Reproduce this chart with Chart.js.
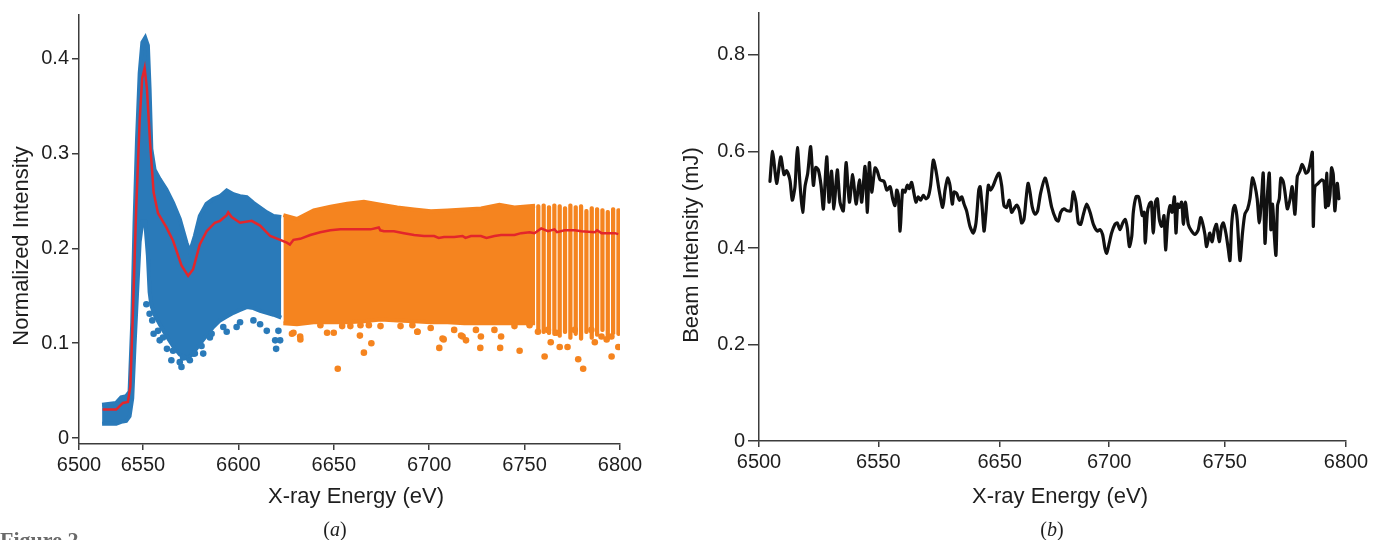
<!DOCTYPE html>
<html>
<head>
<meta charset="utf-8">
<script src="https://cdn.jsdelivr.net/npm/chart.js@4.4.1/dist/chart.umd.min.js"></script>
<style>
  html, body { margin: 0; padding: 0; background: #fff; }
  body { position: relative; width: 1373px; height: 540px; overflow: hidden; }
  canvas { position: absolute; top: 0; }
  #chartA { left: 0; }
  #chartB { left: 660px; }
  .panel { position: absolute; transform: translate(-50%, -50%); font-family: "Liberation Serif", "DejaVu Serif", serif; font-size: 20px; color: #1e1e1e; white-space: nowrap; }
  #figLabel { position: absolute; left: 0; top: 527px; font-family: "Liberation Serif", serif; font-weight: bold; font-size: 22px; color: #6a6a6a; }
</style>
</head>
<body>
<canvas id="chartA" width="680" height="540"></canvas>
<canvas id="chartB" width="713" height="540"></canvas>
<div class="panel" style="left:335px; top:529px;">(<i>a</i>)</div>
<div class="panel" style="left:1052px; top:529px;">(<i>b</i>)</div>
<div id="figLabel">Figure 2</div>
<script>
// ---- panel (a): XANES, single shots (cloud) and average (red) ----
var blueEnergy = [6528.6, 6536.0, 6538.6, 6541.2, 6543.0, 6544.4, 6545.6, 6546.9, 6548.3, 6549.7, 6551.2, 6552.6, 6553.5, 6554.4, 6556.1, 6558.8, 6562.3, 6565.8, 6569.3, 6572.8, 6574.6, 6577.2, 6579.8, 6583.3, 6586.8, 6590.4, 6593.9, 6597.4, 6600.9, 6604.4, 6607.9, 6611.4, 6614.9, 6618.4, 6622.5];
var blueUpper = [0.035, 0.037, 0.043, 0.044, 0.049, 0.122, 0.227, 0.315, 0.385, 0.417, 0.422, 0.414, 0.368, 0.305, 0.283, 0.273, 0.262, 0.248, 0.231, 0.206, 0.196, 0.213, 0.234, 0.247, 0.252, 0.255, 0.261, 0.257, 0.255, 0.254, 0.248, 0.243, 0.238, 0.234, 0.233];
var blueLower = [0.015, 0.015, 0.017, 0.018, 0.023, 0.042, 0.097, 0.152, 0.207, 0.228, 0.228, 0.192, 0.154, 0.140, 0.130, 0.120, 0.108, 0.097, 0.088, 0.084, 0.086, 0.092, 0.099, 0.108, 0.117, 0.124, 0.128, 0.132, 0.135, 0.138, 0.137, 0.134, 0.132, 0.130, 0.127];
var blueOutEnergy = [6551.8, 6553.5, 6554.9, 6555.6, 6557.9, 6558.8, 6560.5, 6562.6, 6564.9, 6565.8, 6569.3, 6570.2, 6571.1, 6574.6, 6576.3, 6577.2, 6580.7, 6581.6, 6585.1, 6586.0, 6592.1, 6593.9, 6599.1, 6600.9, 6607.9, 6611.4, 6614.9, 6619.3, 6619.8, 6621.0, 6621.9];
var blueOutValue = [0.141, 0.131, 0.124, 0.110, 0.113, 0.103, 0.106, 0.094, 0.082, 0.092, 0.080, 0.075, 0.085, 0.082, 0.089, 0.089, 0.097, 0.089, 0.106, 0.110, 0.117, 0.112, 0.117, 0.122, 0.124, 0.120, 0.113, 0.103, 0.094, 0.113, 0.103];

var orangeEnergy = [6623.6, 6630.7, 6639.5, 6648.3, 6657.0, 6665.8, 6674.6, 6683.3, 6692.1, 6700.9, 6709.6, 6718.4, 6727.2, 6736.8, 6744.7, 6755.5];
var orangeUpper = [0.235, 0.231, 0.240, 0.244, 0.247, 0.249, 0.246, 0.243, 0.241, 0.239, 0.240, 0.241, 0.242, 0.246, 0.243, 0.245];
var orangeLower = [0.121, 0.120, 0.122, 0.122, 0.122, 0.123, 0.125, 0.124, 0.123, 0.122, 0.122, 0.121, 0.121, 0.121, 0.121, 0.121];
var stripeEnergy = [6757.2, 6760.0, 6762.8, 6765.6, 6768.4, 6771.2, 6774.0, 6776.8, 6779.6, 6782.4, 6785.2, 6788.0, 6790.8, 6793.6, 6796.4, 6799.2];
var stripeTop = [0.246, 0.247, 0.245, 0.247, 0.246, 0.244, 0.247, 0.245, 0.246, 0.241, 0.244, 0.243, 0.242, 0.240, 0.243, 0.242];
var stripeBottom = [0.112, 0.110, 0.109, 0.108, 0.106, 0.110, 0.104, 0.108, 0.103, 0.110, 0.104, 0.107, 0.112, 0.106, 0.109, 0.108];
var orangeOutEnergy = [6628.1, 6628.9, 6632.4, 6632.5, 6643.0, 6646.5, 6650.0, 6652.1, 6654.4, 6658.7, 6663.7, 6664.0, 6665.8, 6668.4, 6669.7, 6674.5, 6685.0, 6691.2, 6693.8, 6693.9, 6700.8, 6705.3, 6707.0, 6707.6, 6713.1, 6716.7, 6717.5, 6719.3, 6724.5, 6726.8, 6727.1, 6734.2, 6737.2, 6737.7, 6744.7, 6747.4, 6752.6, 6757.0, 6760.5, 6762.2, 6763.7, 6766.6, 6768.4, 6772.5, 6776.3, 6778.1, 6780.7, 6785.0, 6786.8, 6790.3, 6793.0, 6795.5, 6795.6, 6799.1];
var orangeOutValue = [0.110, 0.111, 0.107, 0.104, 0.119, 0.111, 0.111, 0.073, 0.118, 0.118, 0.108, 0.119, 0.090, 0.119, 0.100, 0.118, 0.118, 0.119, 0.112, 0.112, 0.116, 0.095, 0.105, 0.104, 0.114, 0.108, 0.107, 0.103, 0.114, 0.095, 0.107, 0.114, 0.095, 0.107, 0.118, 0.092, 0.119, 0.112, 0.086, 0.114, 0.101, 0.111, 0.096, 0.096, 0.114, 0.083, 0.073, 0.114, 0.101, 0.107, 0.104, 0.107, 0.086, 0.096];

var meanEnergy = [6528.9, 6536.0, 6539.5, 6542.1, 6543.4, 6544.8, 6546.5, 6548.3, 6549.6, 6550.9, 6552.1, 6553.8, 6555.6, 6557.9, 6562.3, 6565.8, 6570.2, 6573.7, 6576.3, 6579.8, 6583.4, 6587.7, 6590.4, 6593.9, 6594.7, 6596.5, 6600.9, 6607.0, 6611.4, 6616.7, 6621.9,
  6625.4, 6627.0, 6628.9, 6632.4, 6637.7, 6642.9, 6648.2, 6653.5, 6658.7, 6664.0, 6669.3, 6673.6, 6674.4, 6676.3, 6681.5, 6686.8, 6692.1, 6697.3, 6702.6, 6705.0, 6707.8, 6713.1, 6717.5, 6719.0, 6721.9, 6727.1, 6730.0, 6734.2, 6737.7, 6744.7, 6748.2, 6752.6, 6755.2, 6758.7, 6762.2, 6765.7, 6767.0, 6771.0, 6776.3, 6779.8, 6786.8, 6788.0, 6790.3, 6797.3, 6799.1];
var meanValue = [0.030, 0.030, 0.037, 0.038, 0.054, 0.135, 0.244, 0.335, 0.379, 0.390, 0.368, 0.310, 0.259, 0.237, 0.222, 0.208, 0.182, 0.171, 0.178, 0.204, 0.218, 0.227, 0.229, 0.235, 0.238, 0.233, 0.227, 0.229, 0.224, 0.213, 0.209,
  0.206, 0.204, 0.209, 0.210, 0.214, 0.217, 0.219, 0.220, 0.220, 0.220, 0.220, 0.222, 0.219, 0.218, 0.218, 0.216, 0.214, 0.213, 0.213, 0.211, 0.212, 0.212, 0.213, 0.211, 0.213, 0.213, 0.211, 0.213, 0.214, 0.214, 0.216, 0.217, 0.216, 0.221, 0.218, 0.220, 0.217, 0.219, 0.219, 0.218, 0.217, 0.219, 0.216, 0.216, 0.215];

var energyTicksA = [6516.5, 6550, 6600, 6650, 6700, 6750, 6800];
var energyLabelsA = ['6500', '6550', '6600', '6650', '6700', '6750', '6800'];
var intensityTicksA = [0, 0.1, 0.2, 0.3, 0.4];
var intensityLabelsA = ['0', '0.1', '0.2', '0.3', '0.4'];

// ---- panel (b): beam intensity per energy step ----
var beamEnergy = [6505.6, 6507.0, 6509.0, 6511.1, 6512.8, 6514.1, 6515.8, 6517.0, 6518.4, 6519.6, 6521.0, 6522.3, 6523.5, 6524.9, 6526.4, 6527.8, 6529.0, 6530.3, 6531.7, 6532.9, 6534.6, 6535.8, 6537.1, 6538.3, 6540.0, 6541.4, 6543.1, 6544.5, 6546.2, 6547.9, 6549.6, 6551.3, 6552.5, 6554.2, 6555.4, 6556.4, 6557.6, 6559.3, 6560.5, 6561.9, 6563.9, 6565.3, 6567.0, 6568.3, 6569.5, 6570.4, 6571.2, 6572.1,
  6573.4, 6574.6, 6575.8, 6576.8, 6578.0, 6579.2, 6580.2, 6581.4, 6582.6, 6584.0, 6585.3, 6586.5, 6587.7, 6589.1, 6590.5, 6592.2, 6593.9, 6595.1, 6596.4, 6597.6, 6598.8, 6599.7, 6601.0, 6602.4, 6603.6, 6604.8, 6606.1, 6607.8, 6609.5, 6610.9, 6612.3, 6613.0, 6614.0, 6615.0, 6616.0, 6617.2, 6618.4, 6619.8, 6621.5, 6622.7, 6624.0, 6625.2, 6626.6, 6627.9, 6629.1, 6630.3, 6631.7, 6633.1, 6634.2, 6635.4, 6636.5, 6637.5, 6638.5, 6639.7, 6641.1, 6642.4,
  6643.9, 6646.2, 6647.9, 6649.6, 6651.8, 6653.0, 6654.2, 6655.9, 6657.6, 6659.3, 6660.6, 6662.0, 6663.2, 6664.4, 6665.8, 6667.5, 6669.2, 6670.9, 6672.9, 6674.3, 6675.6, 6676.8, 6677.7, 6679.0, 6680.2, 6681.9, 6683.1, 6684.5, 6685.9, 6687.2, 6688.2, 6689.3, 6690.5, 6691.3, 6692.7, 6694.0, 6695.1, 6695.9, 6696.8, 6697.4, 6698.5, 6699.5, 6700.5, 6701.5, 6702.6, 6703.6, 6704.6, 6705.8, 6707.0, 6707.8, 6708.9, 6710.1, 6711.1, 6712.3, 6713.1, 6714.0, 6714.8, 6716.0, 6716.9, 6717.9,
  6719.4, 6721.1, 6722.8, 6724.5, 6725.7, 6726.7, 6727.9, 6728.7, 6729.6, 6730.4, 6731.6, 6732.7, 6733.8, 6735.2, 6736.4, 6737.3, 6738.6, 6739.8, 6740.7, 6741.5, 6742.4, 6743.2, 6744.4, 6745.8, 6747.1, 6748.3, 6749.7, 6750.9, 6752.2, 6753.4, 6754.6, 6755.7, 6756.8, 6757.7, 6758.6, 6759.7, 6760.8, 6761.6, 6762.5, 6763.3, 6764.2, 6765.0, 6765.9, 6766.7, 6767.9, 6768.9, 6770.0, 6771.3, 6772.5, 6773.9, 6775.1, 6776.4, 6777.5, 6778.5, 6779.5, 6780.7, 6781.9, 6782.8, 6783.3, 6784.1, 6785.8, 6787.5, 6788.7, 6789.6, 6790.1, 6790.9, 6791.8, 6792.6, 6793.5, 6794.3, 6795.5, 6796.4];
var beamValue = [0.538, 0.600, 0.534, 0.589, 0.552, 0.560, 0.541, 0.499, 0.527, 0.608, 0.530, 0.474, 0.527, 0.555, 0.610, 0.530, 0.567, 0.562, 0.530, 0.481, 0.589, 0.495, 0.559, 0.481, 0.562, 0.495, 0.477, 0.577, 0.495, 0.552, 0.491, 0.541, 0.495, 0.569, 0.474, 0.577, 0.516, 0.566, 0.559, 0.541, 0.538, 0.520, 0.527, 0.502, 0.488, 0.520, 0.509, 0.435,
  0.520, 0.516, 0.530, 0.523, 0.536, 0.513, 0.495, 0.506, 0.499, 0.509, 0.502, 0.506, 0.530, 0.582, 0.559, 0.516, 0.484, 0.520, 0.545, 0.530, 0.491, 0.516, 0.513, 0.499, 0.506, 0.491, 0.477, 0.445, 0.431, 0.452, 0.520, 0.527, 0.488, 0.435, 0.474, 0.530, 0.520, 0.530, 0.548, 0.555, 0.530, 0.488, 0.484, 0.499, 0.474, 0.481, 0.489, 0.477, 0.452, 0.459, 0.502, 0.534, 0.516, 0.484, 0.470, 0.477,
  0.513, 0.545, 0.520, 0.484, 0.459, 0.456, 0.474, 0.481, 0.477, 0.477, 0.516, 0.495, 0.452, 0.449, 0.470, 0.491, 0.474, 0.449, 0.435, 0.438, 0.428, 0.399, 0.389, 0.410, 0.431, 0.449, 0.452, 0.438, 0.452, 0.459, 0.442, 0.403, 0.424, 0.474, 0.506, 0.506, 0.484, 0.467, 0.474, 0.410, 0.474, 0.491, 0.495, 0.431, 0.495, 0.502, 0.459, 0.445, 0.467, 0.396, 0.459, 0.488, 0.474, 0.506, 0.431, 0.491, 0.484, 0.495, 0.449, 0.495,
  0.449, 0.435, 0.428, 0.438, 0.463, 0.452, 0.428, 0.403, 0.417, 0.431, 0.413, 0.438, 0.449, 0.413, 0.445, 0.452, 0.431, 0.399, 0.374, 0.445, 0.481, 0.488, 0.459, 0.374, 0.431, 0.470, 0.481, 0.502, 0.545, 0.530, 0.502, 0.452, 0.502, 0.555, 0.410, 0.502, 0.555, 0.438, 0.491, 0.431, 0.385, 0.488, 0.502, 0.545, 0.538, 0.513, 0.481, 0.499, 0.527, 0.470, 0.548, 0.559, 0.573, 0.566, 0.555, 0.559, 0.580, 0.598, 0.445, 0.527, 0.534, 0.541, 0.538, 0.484, 0.555, 0.488, 0.509, 0.566, 0.552, 0.477, 0.534, 0.502];

var energyTicksB = [6500, 6561, 6623, 6679, 6738, 6800];
var energyLabelsB = ['6500', '6550', '6650', '6700', '6750', '6800'];
var beamTicks = [0, 0.2, 0.4, 0.6, 0.8];
var beamLabels = ['0', '0.2', '0.4', '0.6', '0.8'];

var fontFamily = '"Liberation Sans", Arial, Helvetica, sans-serif';
var ink = '#1e1e1e';
var axisColor = '#3c3c3c';
var blue = '#2a7ab9';
var orange = '#f5841f';
var red = '#e3262b';

function pairs(xs, ys) {
  return xs.map(function(x, i) { return { x: x, y: ys[i] }; });
}

function fixedTicks(values) {
  return function(scale) {
    scale.ticks = values.map(function(v) { return { value: v }; });
  };
}

// axis titles drawn where the original figure has them
function titles(items) {
  return {
    id: 'panelTitles',
    afterDraw: function(chart) {
      var ctx = chart.ctx;
      items.forEach(function(t) {
        ctx.save();
        ctx.translate(t.x, t.y);
        if (t.rotate) ctx.rotate(-Math.PI / 2);
        ctx.font = '22px ' + fontFamily;
        ctx.fillStyle = ink;
        ctx.textAlign = 'center';
        ctx.textBaseline = 'middle';
        ctx.fillText(t.text, 0, 0);
        ctx.restore();
      });
    }
  };
}

function xAxis(min, max, ticks, labels, height) {
  return {
    type: 'linear', min: min, max: max, offset: false,
    afterBuildTicks: fixedTicks(ticks),
    afterFit: function(s) { s.height = height; },
    grid: { drawOnChartArea: false, drawTicks: true, tickLength: 6, color: axisColor, lineWidth: 1.5, offset: false },
    border: { color: axisColor, width: 1.5 },
    ticks: {
      autoSkip: false, maxRotation: 0, padding: 3, color: ink,
      font: { family: fontFamily, size: 20 },
      callback: function(v, i) { return labels[i]; }
    }
  };
}

function yAxis(min, max, ticks, labels, width, tickLen) {
  return {
    type: 'linear', min: min, max: max,
    afterBuildTicks: fixedTicks(ticks),
    afterFit: function(s) { s.width = width; },
    grid: { drawOnChartArea: false, drawTicks: true, tickLength: tickLen, color: axisColor, lineWidth: 1.5 },
    border: { color: axisColor, width: 1.5 },
    ticks: {
      autoSkip: false, padding: 3, color: ink,
      font: { family: fontFamily, size: 20, lineHeight: 1 },
      callback: function(v, i) { return labels[i]; }
    }
  };
}

// one edge of a shot cloud; the upper edge fills down to the lower one
function edge(xs, ys, color, fillTo, order) {
  return { data: pairs(xs, ys), borderColor: color, backgroundColor: color, borderWidth: 4, pointRadius: 0,
    tension: 0, fill: fillTo, order: order };
}

var common = {
  responsive: false,
  animation: false,
  events: [],
  plugins: { legend: { display: false }, tooltip: { enabled: false } }
};

new Chart(document.getElementById('chartA'), {
  type: 'line',
  data: {
    datasets: [
      edge(blueEnergy, blueUpper, blue, '+1', 7),
      edge(blueEnergy, blueLower, blue, false, 6),
      { type: 'scatter', data: pairs(blueOutEnergy, blueOutValue), backgroundColor: blue, borderWidth: 0, pointRadius: 3.3, showLine: false, order: 5 },
      edge(orangeEnergy, orangeUpper, orange, '+1', 4),
      edge(orangeEnergy, orangeLower, orange, false, 3),
      { type: 'bar', data: stripeEnergy.map(function(e, i) { return { x: e, y: [stripeBottom[i], stripeTop[i]] }; }),
        backgroundColor: orange, barThickness: 3.6, borderRadius: 2, borderSkipped: false, order: 2 },
      { type: 'scatter', data: pairs(orangeOutEnergy, orangeOutValue), backgroundColor: orange, borderWidth: 0, pointRadius: 3.3, showLine: false, order: 1 },
      { data: pairs(meanEnergy, meanValue), borderColor: red, borderWidth: 2.5, pointRadius: 0, tension: 0, fill: false, order: 0 }
    ]
  },
  options: Object.assign({}, common, {
    layout: { padding: { top: 15, right: 60, left: 0, bottom: 0 } },
    scales: {
      x: xAxis(6516.5, 6800, energyTicksA, energyLabelsA, 96),
      y: yAxis(-0.0063, 0.446, intensityTicksA, intensityLabelsA, 79, 7)
    }
  }),
  plugins: [titles([
    { text: 'Normalized Intensity', x: 22, y: 246, rotate: true },
    { text: 'X-ray Energy (eV)', x: 356, y: 497 }
  ])]
});

new Chart(document.getElementById('chartB'), {
  type: 'line',
  data: {
    datasets: [
      { data: pairs(beamEnergy, beamValue), borderColor: '#111', borderWidth: 3.2, pointRadius: 0, tension: 0.25,
        borderJoinStyle: 'round', borderCapStyle: 'round', fill: false }
    ]
  },
  options: Object.assign({}, common, {
    layout: { padding: { top: 10, right: 27, left: 0, bottom: 0 } },
    scales: {
      x: xAxis(6500, 6800, energyTicksB, energyLabelsB, 99),
      y: yAxis(0, 0.887, beamTicks, beamLabels, 99, 11)
    }
  }),
  plugins: [titles([
    { text: 'Beam Intensity (mJ)', x: 32, y: 245, rotate: true },
    { text: 'X-ray Energy (eV)', x: 400, y: 497 }
  ])]
});
</script>
</body>
</html>
